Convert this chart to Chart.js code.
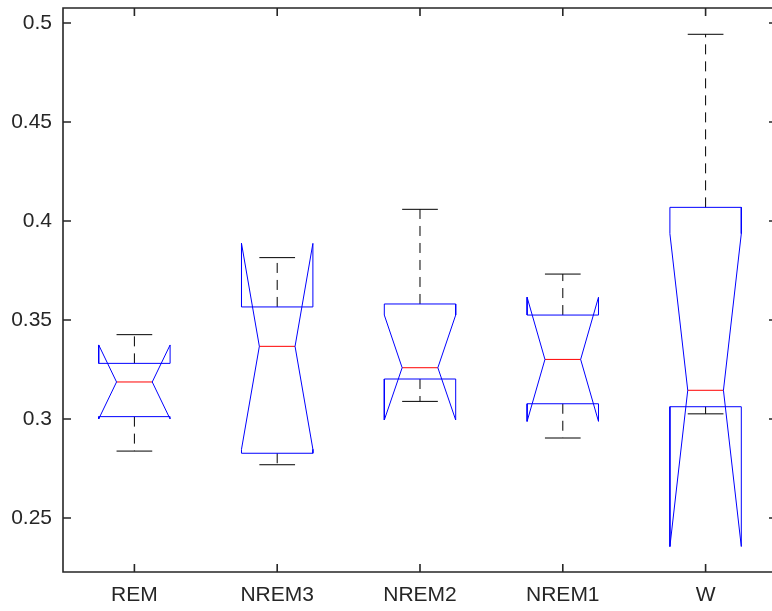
<!DOCTYPE html>
<html>
<head>
<meta charset="utf-8">
<script src="https://cdn.jsdelivr.net/npm/chart.js@4"></script>
<style>
  html, body { margin: 0; padding: 0; background: #ffffff; }
  #wrap { width: 772px; height: 611px; }
</style>
</head>
<body>
<div id="wrap"><canvas id="c" width="772" height="611"></canvas></div>
<script>
// ---- data ----
const categories  = ['REM', 'NREM3', 'NREM2', 'NREM1', 'W'];
const whiskerHigh = [0.3426, 0.3815, 0.4059, 0.3732, 0.4943];
const q3Values    = [0.3281, 0.3566, 0.3581, 0.3525, 0.4069];
const notchHigh   = [0.3374, 0.3887, 0.3525, 0.3615, 0.3936];
const medians     = [0.3187, 0.3367, 0.3259, 0.3301, 0.3145];
const notchLow    = [0.3000, 0.2847, 0.2995, 0.2988, 0.2356];
const q1Values    = [0.3012, 0.2827, 0.3202, 0.3077, 0.3062];
const whiskerLow  = [0.2838, 0.2769, 0.3089, 0.2904, 0.3026];
const yTickValues = [0.25, 0.3, 0.35, 0.4, 0.45, 0.5];
const yTickLabels = ['0.25', '0.3', '0.35', '0.4', '0.45', '0.5'];

// ---- styling constants ----
const BOX_HALF = 0.25, NOTCH_HALF = 0.125, CAP_HALF = 0.125;
const Y_MIN = 0.22273, Y_MAX = 0.50758;
const X_MIN = 0.5, X_MAX = 5.465, X_FRAME_MAX = 5.5;
const AXIS_COLOR = '#262626';
const FONT = { family: '"Liberation Sans", Arial, Helvetica, sans-serif', size: 21 };

const datasets = [];
categories.forEach((cat, i) => {
  const c = i + 1;
  // notched box outline
  datasets.push({
    data: [
      {x: c - BOX_HALF, y: q1Values[i]},
      {x: c - BOX_HALF, y: notchLow[i]},
      {x: c - NOTCH_HALF, y: medians[i]},
      {x: c - BOX_HALF, y: notchHigh[i]},
      {x: c - BOX_HALF, y: q3Values[i]},
      {x: c + BOX_HALF, y: q3Values[i]},
      {x: c + BOX_HALF, y: notchHigh[i]},
      {x: c + NOTCH_HALF, y: medians[i]},
      {x: c + BOX_HALF, y: notchLow[i]},
      {x: c + BOX_HALF, y: q1Values[i]},
      {x: c - BOX_HALF, y: q1Values[i]}
    ],
    borderColor: '#0000ff', borderWidth: 1
  });
  // upper whisker (dashed)
  datasets.push({
    data: [{x: c, y: q3Values[i]}, {x: c, y: whiskerHigh[i]}],
    borderColor: '#000000', borderWidth: 1, borderDash: [10, 7]
  });
  // lower whisker (dashed)
  datasets.push({
    data: [{x: c, y: q1Values[i]}, {x: c, y: whiskerLow[i]}],
    borderColor: '#000000', borderWidth: 1, borderDash: [10, 7]
  });
  // caps
  datasets.push({
    data: [{x: c - CAP_HALF, y: whiskerHigh[i]}, {x: c + CAP_HALF, y: whiskerHigh[i]}],
    borderColor: '#000000', borderWidth: 1
  });
  datasets.push({
    data: [{x: c - CAP_HALF, y: whiskerLow[i]}, {x: c + CAP_HALF, y: whiskerLow[i]}],
    borderColor: '#000000', borderWidth: 1
  });
  // median
  datasets.push({
    data: [{x: c - NOTCH_HALF, y: medians[i]}, {x: c + NOTCH_HALF, y: medians[i]}],
    borderColor: '#ff0000', borderWidth: 1
  });
});
datasets.forEach(d => { d.pointRadius = 0; d.tension = 0; d.fill = false; d.showLine = true; });

// frame with inward ticks (MATLAB "box on")
const framePlugin = {
  id: 'frame',
  afterDatasetsDraw(chart) {
    const {ctx, chartArea, scales: {x, y}} = chart;
    const L = x.getPixelForValue(X_MIN), R = x.getPixelForValue(X_FRAME_MAX);
    const T = chartArea.top, B = chartArea.bottom;
    const TL = 8;
    ctx.save();
    ctx.strokeStyle = AXIS_COLOR;
    ctx.lineWidth = 1.6;
    ctx.beginPath();
    ctx.rect(L, T, R - L, B - T);
    categories.forEach((cat, i) => {
      const px = x.getPixelForValue(i + 1);
      ctx.moveTo(px, B); ctx.lineTo(px, B - TL);
      ctx.moveTo(px, T); ctx.lineTo(px, T + TL);
    });
    yTickValues.forEach(v => {
      const py = y.getPixelForValue(v);
      ctx.moveTo(L, py); ctx.lineTo(L + TL, py);
      ctx.moveTo(R, py); ctx.lineTo(R - TL, py);
    });
    ctx.stroke();
    ctx.restore();
  }
};

new Chart(document.getElementById('c'), {
  type: 'line',
  data: { datasets },
  options: {
    responsive: false,
    animation: false,
    devicePixelRatio: 1,
    layout: { padding: { top: 8, right: 0, left: 0, bottom: 0 } },
    plugins: { legend: { display: false }, tooltip: { enabled: false } },
    scales: {
      x: {
        type: 'linear', min: X_MIN, max: X_MAX,
        grid: { display: false }, border: { display: false },
        afterBuildTicks(scale) { scale.ticks = categories.map((c, i) => ({ value: i + 1 })); },
        afterFit(scale) { scale.height = 39; scale.paddingLeft = 0; scale.paddingRight = 0; },
        ticks: {
          color: AXIS_COLOR, font: FONT, padding: 3, maxRotation: 0, autoSkip: false,
          callback: (v) => categories[Math.round(v) - 1]
        }
      },
      y: {
        type: 'linear', min: Y_MIN, max: Y_MAX,
        grid: { display: false }, border: { display: false },
        afterBuildTicks(scale) { scale.ticks = yTickValues.map(v => ({ value: v })); },
        afterFit(scale) { scale.width = 63; scale.paddingTop = 0; scale.paddingBottom = 0; },
        ticks: {
          color: AXIS_COLOR, font: FONT, padding: 3,
          callback: (v) => { const k = yTickValues.findIndex(t => Math.abs(t - v) < 1e-9); return k >= 0 ? yTickLabels[k] : ''; }
        }
      }
    }
  },
  plugins: [framePlugin]
});
</script>
</body>
</html>
